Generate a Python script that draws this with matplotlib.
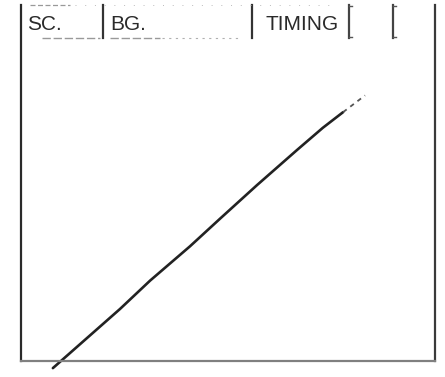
import matplotlib
matplotlib.use("Agg")
import matplotlib.pyplot as plt

# Curve values (arbitrary units, axes span 0-100 in both directions)
curve_x = [7.7, 23.9, 31.2, 40.8, 48.1, 57.0, 66.7, 72.9, 77.8]
curve_y = [-2.0, 14.6, 22.6, 32.2, 40.0, 49.4, 59.3, 65.5, 69.9]
ext_x = [77.8, 83.1]
ext_y = [69.9, 74.6]

header_labels = ["SC.", "BG.", "TIMING"]

plt.rcParams['font.family'] = ['Liberation Sans', 'DejaVu Sans']

W, H = 445, 377
fig = plt.figure(figsize=(W / 100, H / 100), dpi=100)
L, R, B, T = 21, 435, 361, 5
ax = fig.add_axes([L / W, 1 - B / H, (R - L) / W, (B - T) / H])
ax.set_xlim(0, 100)
ax.set_ylim(0, 100)
ax.set_xticks([])
ax.set_yticks([])
ax.spines['top'].set_visible(False)
ax.spines['left'].set_color('#2a2a2a')
ax.spines['left'].set_linewidth(1.6)
ax.spines['right'].set_color('#3a3a3a')
ax.spines['right'].set_linewidth(1.6)
ax.spines['bottom'].set_color('#808080')
ax.spines['bottom'].set_linewidth(1.6)


def fx(px):
    return (px - L) / (R - L)


def fy(py):
    return (B - py) / (B - T)


tr = ax.transAxes

# curve
ax.plot(curve_x, curve_y, color='#222222', lw=1.9, clip_on=False,
        solid_capstyle='round', solid_joinstyle='round')
ax.plot(ext_x, ext_y, color='#555555', lw=1.3, ls=(0, (2.5, 2.5)),
        clip_on=False)

# header texts
text_px = [27, 110, 265]
for lab, px in zip(header_labels, text_px):
    ax.text(fx(px), fy(30), lab, transform=tr, fontsize=15,
            color='#2a2a2a', ha='left', va='baseline')

# header separators
for px, lw, col in [(103, 1.6, '#333333'), (252, 1.6, '#333333'),
                    (349, 1.6, '#444444'), (393, 1.6, '#444444')]:
    ax.plot([fx(px), fx(px)], [fy(5), fy(38)], transform=tr, color=col,
            lw=lw, clip_on=False)
# small bracket serifs
for px in (349, 393):
    ax.plot([fx(px), fx(px + 3)], [fy(6), fy(6)], transform=tr,
            color='#555555', lw=1.0, clip_on=False)
    ax.plot([fx(px), fx(px + 3)], [fy(37), fy(37)], transform=tr,
            color='#555555', lw=1.0, clip_on=False)

# underlines
ax.plot([fx(42), fx(100)], [fy(37.5), fy(37.5)], transform=tr,
        color='#999999', lw=1.0, ls=(0, (6, 2)), clip_on=False)
ax.plot([fx(110), fx(160)], [fy(37.5), fy(37.5)], transform=tr,
        color='#999999', lw=1.0, ls=(0, (6, 2)), clip_on=False)
ax.plot([fx(162), fx(240)], [fy(37.5), fy(37.5)], transform=tr,
        color='#b0b0b0', lw=0.8, ls=(0, (2, 4)), clip_on=False)
# top dotted line
ax.plot([fx(30), fx(70)], [fy(5), fy(5)], transform=tr,
        color='#999999', lw=0.9, ls=(0, (4, 2)), clip_on=False)
ax.plot([fx(75), fx(330)], [fy(5), fy(5)], transform=tr,
        color='#bbbbbb', lw=0.7, ls=(0, (1, 9)), clip_on=False)

fig.savefig("out.png", dpi=100, facecolor='white')
